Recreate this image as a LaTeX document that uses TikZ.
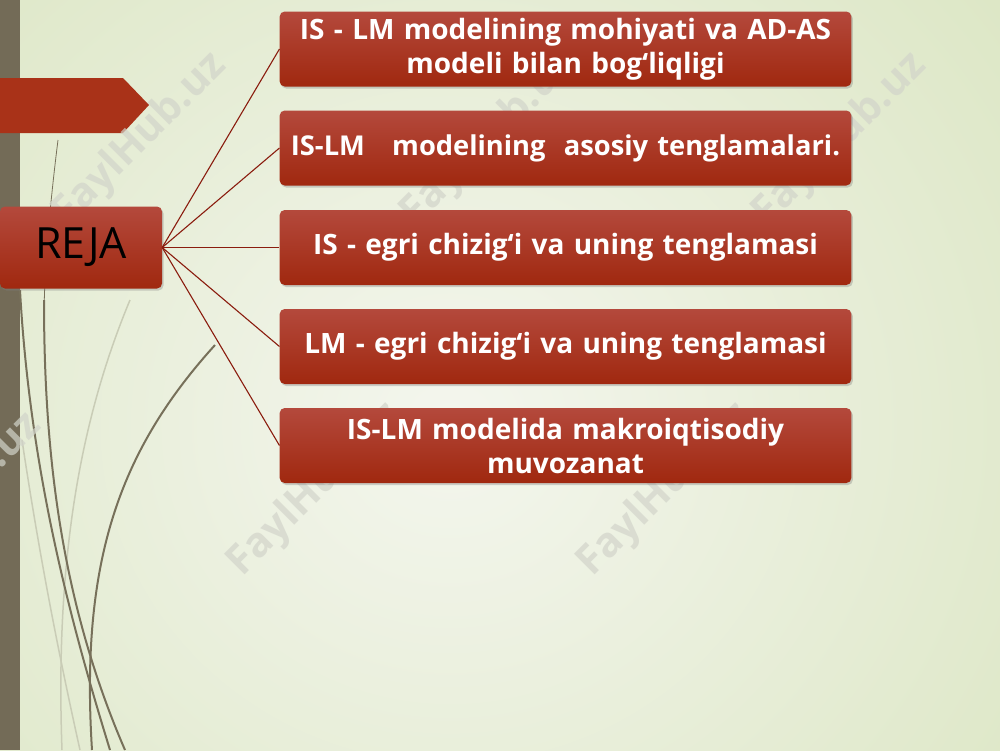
\documentclass[tikz,border=0pt]{standalone}
\usepackage{fontspec}
\setmainfont{Open Sans}
\newfontfamily\boxfont{Open Sans}[UprightFont=* Bold]
\usetikzlibrary{shadows}
\definecolor{bgl}{HTML}{F4F6EE}
\definecolor{bgr}{HTML}{DDE7C6}
\definecolor{barc}{HTML}{736B57}
\definecolor{boxtop}{HTML}{B4493C}
\definecolor{boxbot}{HTML}{A0280F}
\definecolor{tabc}{HTML}{A93218}
\definecolor{linkc}{HTML}{8A1C0E}
\definecolor{grass}{HTML}{77705A}
\definecolor{grassl}{HTML}{C9CCB6}
\definecolor{wm}{HTML}{D2D4CA}
\tikzset{
  itembox/.style={rounded corners=5pt, top color=boxtop, bottom color=boxbot, draw=none,
    minimum width=569pt, minimum height=75pt, text width=565pt, align=center,
    font=\boxfont\fontsize{28}{34}\selectfont, text=white,
    drop shadow={shadow xshift=1.5pt, shadow yshift=-2pt, opacity=0.35}},
  rejabox/.style={rounded corners=5pt, top color=boxtop, bottom color=boxbot, draw=none,
    minimum width=162pt, minimum height=82pt, align=center,
    font=\fontsize{43}{46}\selectfont, text=black,
    drop shadow={shadow xshift=1.5pt, shadow yshift=-2pt, opacity=0.35}},
  link/.style={draw=linkc, line width=1.1pt},
  wmark/.style={text=wm, font=\boxfont\fontsize{41}{44}\selectfont, rotate=45, opacity=0.7},
  grassline/.style={draw=grass, line width=2pt},
  grassthin/.style={draw=grass, line width=0.8pt},
  grassfaint/.style={draw=grassl, line width=1.5pt}
}
\begin{document}
\begin{tikzpicture}[x=1pt,y=-1pt]
\useasboundingbox (0,0) rectangle (1000,750);
% background
\shade[inner color=bgl, outer color=bgr] (-250,-250) rectangle (1150,1100);
% left bar
\fill[barc] (0,0) rectangle (20,750);
% grass curves
\draw[grassfaint] (130,300) .. controls (80,420) and (55,560) .. (62,750);
\draw[grassfaint] (22,440) .. controls (40,560) and (60,660) .. (80,750);
\draw[grassthin] (58,140) .. controls (48,220) and (44,280) .. (44,320);
\draw[grassline] (44,300) .. controls (44,450) and (60,600) .. (125,750);
\draw[grassline] (20,290) .. controls (30,470) and (70,620) .. (110,750);
\draw[grassline] (215,345) .. controls (120,450) and (80,560) .. (92,750);
% red arrow tab
\fill[tabc] (0,78) -- (123,78) -- (149,105) -- (123,133) -- (0,133) -- cycle;
% watermarks
\node[wmark] at (140,140) {FaylHub.uz};
\node[wmark] at (488,140) {FaylHub.uz};
\node[wmark] at (840,140) {FaylHub.uz};
\node[wmark] at (315,490) {FaylHub.uz};
\node[wmark] at (665,490) {FaylHub.uz};
\node[wmark] at (-45,500) {FaylHub.uz};
% nodes
\node[rejabox] (reja) at (81,247.5) {REJA};
\node[itembox] (b1) at (565.5,49) {IS - LM modelining mohiyati va AD-AS\\modeli bilan bog‘liqligi};
\node[itembox, font=\boxfont\fontsize{27.3}{34}\selectfont] (b2) at (565.5,148) {IS-LM \ \ modelining \ asosiy tenglamalari.};
\node[itembox] (b3) at (565.5,247.5) {IS - egri chizig‘i va uning tenglamasi};
\node[itembox] (b4) at (565.5,346.5) {LM - egri chizig‘i va uning tenglamasi};
\node[itembox] (b5) at (565.5,445.5) {IS-LM modelida makroiqtisodiy\\muvozanat};
% connectors
\foreach \b in {b1,b2,b3,b4,b5} \draw[link] (reja.east) -- (\b.west);
\end{tikzpicture}
\end{document}
